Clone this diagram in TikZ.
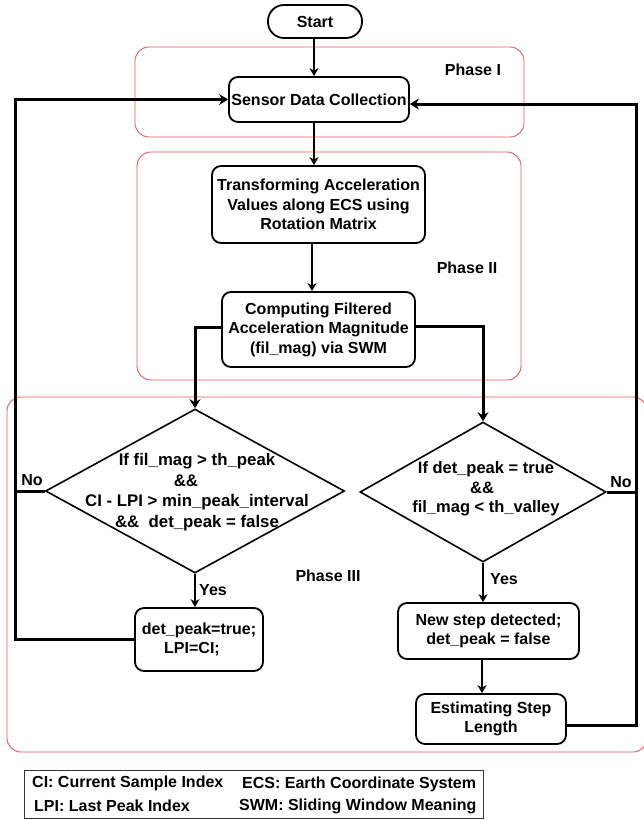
\documentclass[tikz,border=0pt]{standalone}
\usepackage{fontspec}
\setmainfont{Liberation Sans}
\usetikzlibrary{shapes.geometric,arrows.meta,calc}
\definecolor{phasered}{RGB}{236,88,96}
\begin{document}
\begin{tikzpicture}[x=1pt,y=-1pt,
  every node/.style={font=\fontsize{16}{19.5}\selectfont\bfseries, inner sep=0pt, align=center},
  stepbox/.style={draw, line width=1.8pt, rounded corners=9pt},
  term/.style={draw, line width=1.8pt, rounded corners=16pt},
  dia/.style={draw, diamond, line width=1.6pt},
  phase/.style={draw=phasered, line width=0.9pt, rounded corners=14pt},
  thinarrow/.style={line width=1.5pt, -{Stealth[length=8pt,width=9pt,inset=2.5pt]}},
  loopline/.style={line width=3pt},
  looparrow/.style={line width=3pt, -{Stealth[length=9pt,width=11pt,inset=3pt]}},
  lbl/.style={font=\fontsize{16}{19.5}\selectfont\bfseries}
]
\useasboundingbox (0,0) rectangle (644,820);
\fill[white] (0,0) rectangle (644,820);

% phase regions
\draw[phase] (135,47) rectangle (524,137);
\draw[phase] (137,152) rectangle (521,380);
\draw[phase] (7,397) rectangle (647,752);
\node[lbl] (p1) at (473,70) {Phase I};
\node[lbl] (p2) at (467,268) {Phase II};
\node[lbl] (p3) at (328,576) {Phase III};

% nodes
\node[term, minimum width=94, minimum height=33] (start) at (315,21.5) {Start};
\node[stepbox, minimum width=180, minimum height=45] (sensor) at (319,99.5) {Sensor Data Collection};
\node[stepbox, minimum width=213, minimum height=77] (trans) at (318.5,204.5) {Transforming Acceleration\\Values along ECS using\\Rotation Matrix};
\node[stepbox, minimum width=193, minimum height=75] (comp) at (318.5,329.5) {Computing Filtered\\Acceleration Magnitude\\(fil\_mag) via SWM};
\node[dia, minimum width=299, minimum height=164] (d1) at (195,491) {};
\node[font=\fontsize{16.8}{20.5}\selectfont\bfseries] (d1t) at (197,492) {If fil\_mag > th\_peak\\\hspace*{-22pt}\&\&\\CI - LPI > min\_peak\_interval\\\&\&~~det\_peak = false};
\node[dia, minimum width=246, minimum height=140] (d2) at (483,492) {};
\node[font=\fontsize{16.5}{19.5}\selectfont\bfseries] (d2t) at (486,489) {If det\_peak = true\\\hspace*{-8pt}\&\&\\fil\_mag < th\_valley};
\node[stepbox, minimum width=128, minimum height=63] (dp) at (199,639.5) {det\_peak=true;\\\hspace*{-14pt}LPI=CI;};
\node[stepbox, minimum width=181, minimum height=56] (ns) at (488.5,631) {New step detected;\\det\_peak = false};
\node[stepbox, minimum width=150, minimum height=50] (est) at (491,719) {Estimating Step\\Length};

% loop rails
\coordinate (L) at (15,0);
\coordinate (R) at (636,0);

% straight arrows
\draw[thinarrow] (start.south -| 314,0) -- (sensor.north -| 314,0);
\draw[thinarrow] (sensor.south -| 314,0) -- (trans.north -| 314,0);
\draw[thinarrow] (trans.south -| 312,0) -- (comp.north -| 312,0);
\draw[thinarrow] (d1.south) -- (d1.south |- dp.north);
\draw[thinarrow] (d2.south) -- (d2.south |- ns.north);
\draw[thinarrow] (ns.south -| 482,0) -- (est.north -| 482,0);

% branches from comp
\draw[looparrow] ([yshift=2.5pt]comp.west) -| (d1.north);
\draw[looparrow] ([yshift=3.5pt]comp.east) -| (d2.north);

% left loop
\draw[loopline] (d1.west) -- (d1.west -| L);
\draw[looparrow] (dp.west) -- (dp.west -| L) -- (L |- sensor.west) -- (sensor.west);
% right loop
\draw[loopline] (d2.east) -- (d2.east -| R);
\draw[looparrow] ([yshift=-6pt]est.east) -- ([yshift=-6pt]est.east -| R) -- (R |- 0,104) -- (sensor.east |- 0,104);

% labels
\node[lbl] (no1) at (32,480) {No};
\node[lbl] (no2) at (621,482) {No};
\node[lbl] (yes1) at (213,590) {Yes};
\node[lbl] (yes2) at (504,579) {Yes};

% legend
\draw[line width=1pt, draw=black!80] (24,770) rectangle (483,818);
\node[anchor=west] (l1) at (32,783) {CI: Current Sample Index};
\node[anchor=west] (l2) at (34,806) {LPI: Last Peak Index};
\node[anchor=west] (l3) at (242,784) {ECS: Earth Coordinate System};
\node[anchor=west] (l4) at (239,806) {SWM: Sliding Window Meaning};
\end{tikzpicture}
\end{document}
